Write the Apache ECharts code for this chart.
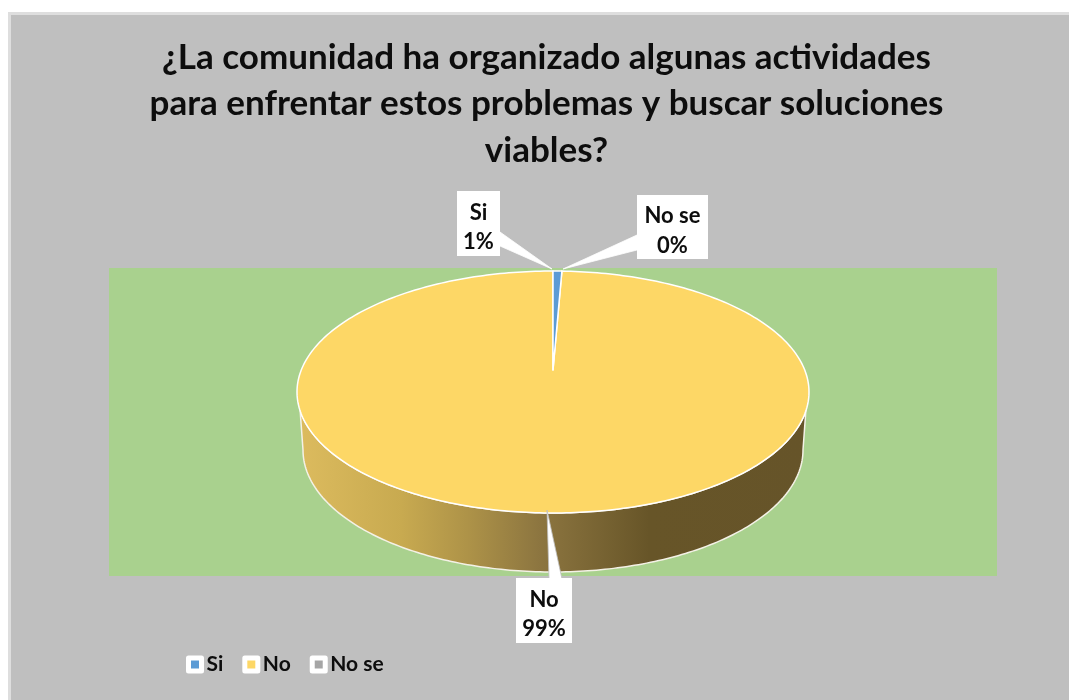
<!DOCTYPE html>
<html>
<head>
<meta charset="utf-8">
<script src="https://cdn.jsdelivr.net/npm/echarts@6/dist/echarts.min.js"></script>
<style>html,body{margin:0;padding:0;background:#fff}#c{width:1069px;height:700px}</style>
</head>
<body>
<div id="c"></div>
<script>
const categories = ['Si', 'No', 'No se'];
const values = [1, 180, 0];
const titleLines = ['¿La comunidad ha organizado algunas actividades', 'para enfrentar estos problemas y buscar soluciones', 'viables?'];
const sliceColors = ['#5b9bd5', '#fdd766', '#a5a5a5'];

const FONT = 'Lato';
const total = values.reduce((a, b) => a + b, 0);
const pie = { cx: 553, cy: 392, rx: 256, ry: 121, apexLift: 22, rxLow: 250, cyLow: 450, ryLow: 122 };
const callouts = {
  'Si': { box: [457, 191, 43, 65], base: [[500, 232], [500, 246]], tip: [552, 269] },
  'No': { box: [516, 578, 56, 65], base: [[549, 579], [562, 579]], tip: [547, 510] },
  'No se': { box: [637, 195, 71, 64], base: [[637, 235], [637, 250]], tip: [563, 269] }
};
const rad = d => d * Math.PI / 180;
const rimPoint = deg => [pie.cx + pie.rx * Math.sin(rad(deg)), pie.cy - pie.ry * Math.cos(rad(deg))];
const lowPoint = deg => [pie.cx + pie.rxLow * Math.sin(rad(deg)), pie.cyLow - pie.ryLow * Math.cos(rad(deg))];

function sliceRange(i) {
  const before = values.slice(0, i).reduce((a, b) => a + b, 0);
  return [before / total * 360, (before + values[i]) / total * 360];
}

function makeRender(i) {
  return function () {
    const name = categories[i];
    const [a0, a1] = sliceRange(i);
    const children = [];
    if (a1 > a0) {
      // side wall, only where the slice faces the viewer
      const from = Math.max(a0, 99), to = Math.min(a1, 261);
      if (to > from) {
        const wall = [];
        for (let d = from; d <= to; d += 1) wall.push(rimPoint(d));
        for (let d = Math.min(a1, 270); d >= Math.max(a0, 90); d -= 1) wall.push(lowPoint(d));
        children.push({
          type: 'polygon',
          shape: { points: wall },
          style: {
            stroke: '#f4f1e6', lineWidth: 1.5,
            fill: {
              type: 'linear', x: 0, y: 0, x2: 1, y2: 0,
              colorStops: [
                { offset: 0, color: '#dcbb5e' },
                { offset: 0.2, color: '#c8aa50' },
                { offset: 0.33, color: '#ae9348' },
                { offset: 0.47, color: '#8d7640' },
                { offset: 0.69, color: '#675528' },
                { offset: 1, color: '#665429' }
              ]
            }
          }
        });
      }
      // top face
      const top = [[pie.cx, pie.cy - pie.apexLift]];
      const step = Math.max((a1 - a0) / 360, 0.25);
      for (let d = a0; d < a1; d += step) top.push(rimPoint(d));
      top.push(rimPoint(a1));
      children.push({
        type: 'polygon',
        shape: { points: top },
        style: { fill: sliceColors[i], stroke: '#ffffff', lineWidth: 1.5, lineJoin: 'round' }
      });
    }
    // label callout
    const c = callouts[name];
    const pct = Math.round(values[i] / total * 100);
    children.push({
      type: 'polygon', z2: 50,
      shape: { points: [c.tip, c.base[0], c.base[1]] },
      style: { fill: '#ffffff', stroke: name === 'No' ? '#bfbfbf' : '#ffffff', lineWidth: 0.8 }
    });
    children.push({
      type: 'rect', z2: 51,
      shape: { x: c.box[0], y: c.box[1], width: c.box[2], height: c.box[3] },
      style: { fill: '#ffffff' }
    });
    children.push({
      type: 'text', z2: 52,
      x: c.box[0] + c.box[2] / 2, y: c.box[1] + c.box[3] / 2 + 4,
      style: {
        text: name + '\n' + pct + '%',
        fill: '#0d0d0d', font: 'bold 22px ' + FONT, lineHeight: 29.5,
        align: 'center', verticalAlign: 'middle'
      }
    });
    return { type: 'group', children };
  };
}

const chart = echarts.init(document.getElementById('c'), null, { renderer: 'canvas' });
chart.setOption({
  animation: false,
  backgroundColor: '#ffffff',
  title: {
    text: titleLines.join('\n'),
    left: 541.5, top: 29, textAlign: 'center',
    textStyle: { fontFamily: FONT, fontWeight: 'bold', fontSize: 35, lineHeight: 46.5, color: '#0d0d0d' }
  },
  legend: {
    data: categories.map((n, i) => ({
      name: n,
      itemStyle: { color: sliceColors[i], borderColor: '#ffffff', borderWidth: 5, borderJoin: 'round' }
    })),
    icon: 'rect',
    left: 186, top: 654,
    padding: 0,
    itemWidth: 13, itemHeight: 13, itemGap: 19,
    selectedMode: false,
    textStyle: { fontFamily: FONT, fontWeight: 'bold', fontSize: 21, color: '#0d0d0d' }
  },
  graphic: [
    { type: 'rect', z: -3, silent: true, shape: { x: 8, y: 12, width: 1061, height: 688 }, style: { fill: '#dedede' } },
    { type: 'rect', z: -2, silent: true, shape: { x: 11, y: 15, width: 1058, height: 685 }, style: { fill: '#bfbfbf' } },
    { type: 'rect', z: -1, silent: true, shape: { x: 109, y: 268, width: 888, height: 308 }, style: { fill: '#a9d18e' } }
  ],
  series: [1, 0, 2].map(i => ({
    type: 'custom',
    name: categories[i],
    coordinateSystem: 'none',
    silent: true,
    itemStyle: { color: sliceColors[i] },
    data: [values[i]],
    renderItem: makeRender(i)
  }))
});
</script>
</body>
</html>
